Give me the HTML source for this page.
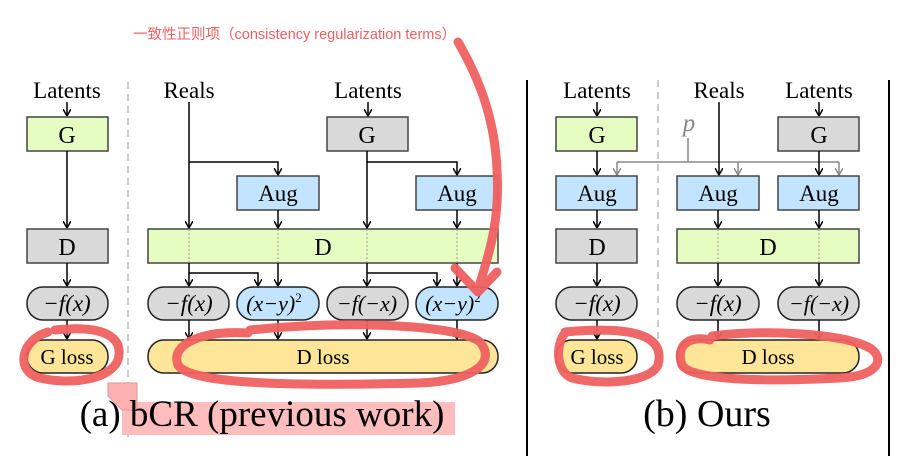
<!DOCTYPE html>
<html><head><meta charset="utf-8"><style>
html,body{margin:0;padding:0;background:#fff}
svg{display:block}
text{font-family:"Liberation Serif",serif;fill:#000}
</style></head><body>
<svg width="907" height="456" viewBox="0 0 907 456">
<defs>
<marker id="ah" markerWidth="8" markerHeight="8" refX="7" refY="4" orient="auto" markerUnits="userSpaceOnUse"><path d="M0,0 L7,4 L0,8" fill="none" stroke="#000" stroke-width="1.5"/></marker>
<marker id="ahg" markerWidth="8" markerHeight="8" refX="7" refY="4" orient="auto" markerUnits="userSpaceOnUse"><path d="M0,0 L7,4 L0,8" fill="none" stroke="#888" stroke-width="1.5"/></marker>
</defs>
<text x="133" y="39" style="font-family:'Liberation Sans','Noto Sans CJK SC',sans-serif;font-size:14.5px;fill:#ef5f5f">一致性正则项（consistency regularization terms）</text>

<g stroke-width="1.5">
<line x1="128" y1="82" x2="128" y2="440" stroke="#bbb" stroke-dasharray="7,5"/>
<text x="67" y="98" font-size="23" text-anchor="middle">Latents</text>
<line x1="67" y1="102" x2="67" y2="116" stroke="#000" marker-end="url(#ah)"/>
<rect x="27" y="117" width="81" height="34" fill="#e6fdc1" stroke="#444"/>
<text x="67" y="143" font-size="24" text-anchor="middle">G</text>
<line x1="67" y1="151" x2="67" y2="228" stroke="#000" marker-end="url(#ah)"/>
<rect x="27" y="229" width="81" height="34" fill="#d9d9d9" stroke="#444"/>
<text x="67" y="255" font-size="24" text-anchor="middle">D</text>
<line x1="67" y1="263" x2="67" y2="286" stroke="#000" marker-end="url(#ah)"/>
<rect x="27" y="287" width="81" height="33" rx="16" fill="#d9d9d9" stroke="#222"/>
<text x="67" y="311" font-size="23" text-anchor="middle" font-style="italic">−f(x)</text>
<line x1="67" y1="320" x2="67" y2="339" stroke="#000" marker-end="url(#ah)"/>
<rect x="27" y="340" width="81" height="33" rx="16" fill="#ffe597" stroke="#222"/>
<text x="67" y="364" font-size="21" text-anchor="middle">G loss</text>

<text x="189" y="98" font-size="23" text-anchor="middle">Reals</text>
<text x="368" y="98" font-size="23" text-anchor="middle">Latents</text>
<line x1="368" y1="102" x2="368" y2="116" stroke="#000" marker-end="url(#ah)"/>
<rect x="327" y="117" width="81" height="34" fill="#d9d9d9" stroke="#444"/>
<text x="367" y="143" font-size="24" text-anchor="middle">G</text>
<line x1="189" y1="102" x2="189" y2="228" stroke="#000" marker-end="url(#ah)"/>
<polyline points="189,162 278,162 278,175" fill="none" stroke="#000" marker-end="url(#ah)"/>
<line x1="367" y1="151" x2="367" y2="228" stroke="#000" marker-end="url(#ah)"/>
<polyline points="367,162 457,162 457,175" fill="none" stroke="#000" marker-end="url(#ah)"/>
<rect x="237" y="176" width="82" height="34" fill="#c2e4fe" stroke="#444"/>
<text x="278" y="201" font-size="23" text-anchor="middle">Aug</text>
<rect x="416" y="176" width="82" height="34" fill="#c2e4fe" stroke="#444"/>
<text x="457" y="201" font-size="23" text-anchor="middle">Aug</text>
<line x1="278" y1="210" x2="278" y2="228" stroke="#000" marker-end="url(#ah)"/>
<line x1="457" y1="210" x2="457" y2="228" stroke="#000" marker-end="url(#ah)"/>
<rect x="148" y="229" width="350" height="34" fill="#e6fdc1" stroke="#444"/>
<g stroke="#999" stroke-dasharray="2,2" stroke-width="1"><line x1="189" y1="229" x2="189" y2="263"/><line x1="278" y1="229" x2="278" y2="263"/><line x1="367" y1="229" x2="367" y2="263"/><line x1="457" y1="229" x2="457" y2="263"/></g>
<text x="323" y="255" font-size="24" text-anchor="middle">D</text>
<line x1="189" y1="263" x2="189" y2="286" stroke="#000" marker-end="url(#ah)"/>
<polyline points="189,273 258,273 258,286" fill="none" stroke="#000" marker-end="url(#ah)"/>
<line x1="278" y1="263" x2="278" y2="286" stroke="#000" marker-end="url(#ah)"/>
<line x1="367" y1="263" x2="367" y2="286" stroke="#000" marker-end="url(#ah)"/>
<polyline points="367,273 437,273 437,286" fill="none" stroke="#000" marker-end="url(#ah)"/>
<line x1="457" y1="263" x2="457" y2="286" stroke="#000" marker-end="url(#ah)"/>
<rect x="148" y="287" width="81" height="33" rx="16" fill="#d9d9d9" stroke="#222"/>
<text x="189" y="311" font-size="23" text-anchor="middle" font-style="italic">−f(x)</text>
<rect x="237" y="287" width="82" height="33" rx="16" fill="#c2e4fe" stroke="#222"/>
<text x="274" y="311" font-size="22" text-anchor="middle" font-style="italic">(x−y)<tspan font-size="13" dy="-9" font-style="normal">2</tspan></text>
<rect x="327" y="287" width="81" height="33" rx="16" fill="#d9d9d9" stroke="#222"/>
<text x="367" y="311" font-size="22" text-anchor="middle" font-style="italic">−f(−x)</text>
<rect x="416" y="287" width="82" height="33" rx="16" fill="#c2e4fe" stroke="#222"/>
<text x="453" y="311" font-size="22" text-anchor="middle" font-style="italic">(x−y)<tspan font-size="13" dy="-9" font-style="normal">2</tspan></text>
<g stroke="#000"><line x1="189" y1="320" x2="189" y2="339" marker-end="url(#ah)"/><line x1="278" y1="320" x2="278" y2="339" marker-end="url(#ah)"/><line x1="367" y1="320" x2="367" y2="339" marker-end="url(#ah)"/><line x1="457" y1="320" x2="457" y2="339" marker-end="url(#ah)"/></g>
<rect x="148" y="340" width="350" height="33" rx="16" fill="#ffe597" stroke="#222"/>
<text x="323" y="364" font-size="21" text-anchor="middle">D loss</text>
<rect x="122" y="402" width="333" height="33" fill="#ffbdbd"/>
<path d="M108,383 L137,383 L137,410 L122,410 L108,396 Z" fill="#ffb0b0" stroke="#d99" stroke-width="1"/>
<text x="262" y="426" font-size="37" text-anchor="middle">(a) bCR (previous work)</text>
</g>

<g stroke-width="1.5">
<line x1="527" y1="80" x2="527" y2="456" stroke="#000" stroke-width="2"/>
<line x1="889" y1="80" x2="889" y2="456" stroke="#000" stroke-width="2"/>
<line x1="658" y1="80" x2="658" y2="340" stroke="#bbb" stroke-dasharray="7,5"/>
<text x="597" y="98" font-size="23" text-anchor="middle">Latents</text>
<text x="719" y="98" font-size="23" text-anchor="middle">Reals</text>
<text x="819" y="98" font-size="23" text-anchor="middle">Latents</text>
<text x="689" y="131" font-size="25" text-anchor="middle" font-style="italic" style="fill:#888">p</text>
<polyline points="688,138 688,162" fill="none" stroke="#888"/>
<line x1="617" y1="162" x2="839" y2="162" stroke="#888"/>
<g stroke="#888"><line x1="617" y1="162" x2="617" y2="175" marker-end="url(#ahg)"/><line x1="738" y1="162" x2="738" y2="175" marker-end="url(#ahg)"/><line x1="839" y1="162" x2="839" y2="175" marker-end="url(#ahg)"/></g>
<line x1="597" y1="102" x2="597" y2="116" stroke="#000" marker-end="url(#ah)"/>
<line x1="819" y1="102" x2="819" y2="116" stroke="#000" marker-end="url(#ah)"/>
<rect x="556" y="117" width="81" height="34" fill="#e6fdc1" stroke="#444"/>
<text x="597" y="143" font-size="24" text-anchor="middle">G</text>
<rect x="778" y="117" width="81" height="34" fill="#d9d9d9" stroke="#444"/>
<text x="819" y="143" font-size="24" text-anchor="middle">G</text>
<g stroke="#000"><line x1="597" y1="151" x2="597" y2="175" marker-end="url(#ah)"/><line x1="719" y1="102" x2="719" y2="175" marker-end="url(#ah)"/><line x1="819" y1="151" x2="819" y2="175" marker-end="url(#ah)"/></g>
<rect x="556" y="176" width="81" height="34" fill="#c2e4fe" stroke="#444"/>
<text x="597" y="201" font-size="23" text-anchor="middle">Aug</text>
<rect x="677" y="176" width="82" height="34" fill="#c2e4fe" stroke="#444"/>
<text x="718" y="201" font-size="23" text-anchor="middle">Aug</text>
<rect x="778" y="176" width="81" height="34" fill="#c2e4fe" stroke="#444"/>
<text x="819" y="201" font-size="23" text-anchor="middle">Aug</text>
<g stroke="#000"><line x1="597" y1="210" x2="597" y2="228" marker-end="url(#ah)"/><line x1="718" y1="210" x2="718" y2="228" marker-end="url(#ah)"/><line x1="819" y1="210" x2="819" y2="228" marker-end="url(#ah)"/></g>
<rect x="556" y="229" width="81" height="34" fill="#d9d9d9" stroke="#444"/>
<text x="597" y="255" font-size="24" text-anchor="middle">D</text>
<rect x="677" y="229" width="182" height="34" fill="#e6fdc1" stroke="#444"/>
<g stroke="#999" stroke-dasharray="2,2" stroke-width="1"><line x1="718" y1="229" x2="718" y2="263"/><line x1="819" y1="229" x2="819" y2="263"/></g>
<text x="768" y="255" font-size="24" text-anchor="middle">D</text>
<g stroke="#000"><line x1="597" y1="263" x2="597" y2="286" marker-end="url(#ah)"/><line x1="718" y1="263" x2="718" y2="286" marker-end="url(#ah)"/><line x1="819" y1="263" x2="819" y2="286" marker-end="url(#ah)"/></g>
<rect x="556" y="287" width="81" height="33" rx="16" fill="#d9d9d9" stroke="#222"/>
<text x="597" y="311" font-size="23" text-anchor="middle" font-style="italic">−f(x)</text>
<rect x="677" y="287" width="82" height="33" rx="16" fill="#d9d9d9" stroke="#222"/>
<text x="718" y="311" font-size="23" text-anchor="middle" font-style="italic">−f(x)</text>
<rect x="778" y="287" width="81" height="33" rx="16" fill="#d9d9d9" stroke="#222"/>
<text x="819" y="311" font-size="22" text-anchor="middle" font-style="italic">−f(−x)</text>
<g stroke="#000"><line x1="597" y1="320" x2="597" y2="339" marker-end="url(#ah)"/><line x1="718" y1="320" x2="718" y2="339" marker-end="url(#ah)"/><line x1="819" y1="320" x2="819" y2="339" marker-end="url(#ah)"/></g>
<rect x="556" y="340" width="81" height="33" rx="16" fill="#ffe597" stroke="#222"/>
<text x="597" y="364" font-size="21" text-anchor="middle">G loss</text>
<rect x="677" y="340" width="182" height="33" rx="16" fill="#ffe597" stroke="#222"/>
<text x="768" y="364" font-size="21" text-anchor="middle">D loss</text>
<text x="707" y="426" font-size="38" text-anchor="middle">(b) Ours</text>
</g>

<g fill="none" stroke="#ef6060" stroke-width="9" stroke-linecap="round" stroke-linejoin="round" opacity="0.95">
<path d="M458,42 C480,80 495,120 497,170 C500,220 490,250 478,290"/>
<path d="M455,268 L478,292 L497,272"/>
<path d="M48,332 C20,340 15,372 40,378 C70,385 110,380 118,360 C125,335 100,325 55,330"/>
<path d="M248,333 C200,330 170,345 178,365 C190,385 300,386 420,383 C480,380 495,360 480,342 C460,325 350,320 250,330"/>
<path d="M565,333 C555,345 556,372 572,378 C605,386 650,382 658,365 C665,338 640,325 565,332"/>
<path d="M710,340 C690,335 675,345 682,365 C690,380 760,382 840,378 C880,376 885,358 870,348 C840,332 760,330 712,336"/>
</g>
</svg>
</body></html>
